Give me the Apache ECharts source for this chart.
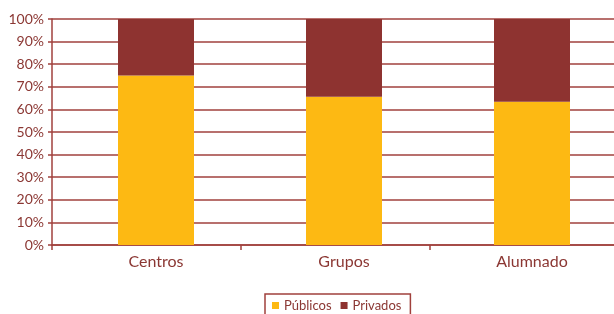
<!DOCTYPE html>
<html>
<head>
    <meta charset="utf-8">
    <script src="https://cdn.jsdelivr.net/npm/echarts@6/dist/echarts.min.js"></script>
    <style>
        html, body { margin: 0; padding: 0; background: #fff; }
    </style>
</head>
<body>
<div id="main" style="width: 614px;height:314px;"></div>
<script>
    // datos
    var categorias = ['Centros', 'Grupos', 'Alumnado'];
    var publicos = [75, 65.6, 63.4];
    var privados = [25, 34.4, 36.6];
    var yTicks = [0, 10, 20, 30, 40, 50, 60, 70, 80, 90, 100];

    var rojo = '#8E3330';
    var amarillo = '#FDB913';
    var lineaCol = '#A0403C';
    var texto = '#8B3733';
    var fuente = 'Lato';

    var myChart = echarts.init(document.getElementById('main'));

    var option = {
        animation: false,
        textStyle: { fontFamily: fuente },
        legend: {
            data: ['Públicos', 'Privados'],
            left: 265,
            top: 294,
            itemWidth: 7,
            itemHeight: 7,
            itemGap: 9,
            icon: 'rect',
            padding: [5, 9, 6, 7],
            borderColor: lineaCol,
            borderWidth: 1.5,
            borderRadius: 0,
            textStyle: { color: texto, fontSize: 13, fontFamily: fuente }
        },
        // grid 0: ejes y lineas; grid 1: barras
        grid: [
            { left: 52, width: 567, top: 19, bottom: 69, outerBoundsMode: 'none', containLabel: false },
            { left: 62, width: 564, top: 19, bottom: 69, outerBoundsMode: 'none', containLabel: false }
        ],
        xAxis: [
            {
                gridIndex: 0,
                type: 'category',
                data: categorias,
                axisLine: { lineStyle: { color: lineaCol, width: 1.5 } },
                axisTick: { show: true, length: 5, lineStyle: { color: lineaCol, width: 1.5 } },
                axisLabel: { show: false }
            },
            {
                gridIndex: 1,
                type: 'category',
                data: categorias,
                axisLine: { show: false },
                axisTick: { show: false },
                axisLabel: { color: texto, fontSize: 16, margin: 9, fontFamily: fuente }
            }
        ],
        yAxis: [
            {
                gridIndex: 0,
                type: 'value',
                min: yTicks[0],
                max: yTicks[yTicks.length - 1],
                interval: 10,
                axisLine: { show: true, lineStyle: { color: lineaCol, width: 1.5 } },
                axisTick: { show: true, length: 4, lineStyle: { color: lineaCol, width: 1.5 } },
                axisLabel: { formatter: '{value}%', color: texto, fontSize: 14, margin: 8, fontFamily: fuente },
                splitLine: { lineStyle: { color: lineaCol, width: 1.5 } }
            },
            {
                gridIndex: 1,
                type: 'value',
                min: 0,
                max: 100,
                show: false
            }
        ],
        series: [
            {
                name: 'Públicos',
                type: 'bar',
                stack: 'total',
                xAxisIndex: 1,
                yAxisIndex: 1,
                barWidth: 76,
                itemStyle: { color: amarillo },
                data: publicos
            },
            {
                name: 'Privados',
                type: 'bar',
                stack: 'total',
                xAxisIndex: 1,
                yAxisIndex: 1,
                barWidth: 76,
                itemStyle: { color: rojo },
                data: privados
            }
        ]
    };
    myChart.setOption(option);
</script>
</body>
</html>
